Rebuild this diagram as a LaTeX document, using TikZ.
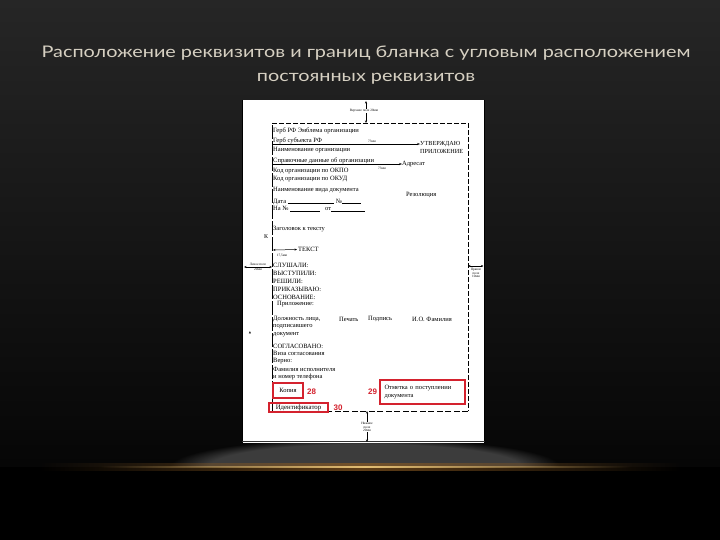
\documentclass[tikz,border=0pt]{standalone}
\usepackage{fontspec}
\setmainfont{Liberation Serif}
\newfontfamily\titlefont[FakeStretch=1.24]{Lato}
\newfontfamily\numfont{Liberation Sans}
\newfontfamily\symfont{DejaVu Sans}
\usetikzlibrary{fadings,arrows.meta}
\definecolor{bgtop}{HTML}{262626}
\definecolor{bgbot}{HTML}{060606}
\definecolor{titlecol}{HTML}{D6D0C2}
\definecolor{gold}{HTML}{E2BE74}
\definecolor{goldedge}{HTML}{8A5A22}
\definecolor{redbox}{HTML}{D4222E}
\definecolor{glow}{HTML}{3C3C3C}
\tikzfading[name=hfade, left color=transparent!100, right color=transparent!100, middle color=transparent!0]
\begin{document}
\begin{tikzpicture}[x=1pt,y=-1pt,
  txt/.style={anchor=west,inner sep=0pt,font=\fontsize{6.5}{7}\selectfont},
  tiny/.style={inner sep=0.3pt,font=\fontsize{3.4}{3.8}\selectfont,align=center},
  marg/.style={{Stealth[length=2.5pt,width=2pt]}-{Stealth[length=2.5pt,width=2pt]},line width=0.5pt},
  conn/.style={-{Stealth[length=3pt,width=2.2pt]},line width=0.8pt},
  framedash/.style={line width=0.7pt,dash pattern=on 5pt off 2pt},
  redframe/.style={draw=redbox,line width=2.6pt,inner sep=0pt},
  rednum/.style={text=redbox,font=\numfont\bfseries\fontsize{8}{9}\selectfont,inner sep=0pt}]
\useasboundingbox (0,0) rectangle (720,540);
% background
\fill[black] (0,0) rectangle (720,540);
\shade[top color=bgtop,bottom color=bgbot] (0,0) rectangle (720,466);
\begin{scope}
\clip (0,430) rectangle (720,466);
\fill[glow,path fading=circle with fuzzy edge 20 percent] (170,438) rectangle (560,496);
\end{scope}
\fill[goldedge,path fading=hfade,opacity=0.7] (40,463) rectangle (680,470.5);
\fill[gold,path fading=hfade] (100,465.5) rectangle (630,468);
% title
\node[font=\titlefont\fontsize{16}{24}\selectfont,text=titlecol,align=center] (title) at (366,65.5)
  {Расположение реквизитов и границ бланка с угловым расположением\\постоянных реквизитов};
% page
\fill[white] (242,100) rectangle (485,443);
\draw[black,line width=1.2pt] (242.6,100) -- (242.6,443);
\draw[black,line width=1.2pt] (484.4,100) -- (484.4,443);
\draw[black!80,line width=1pt] (242,441.5) -- (485,441.5);
% frame
\draw[framedash] (272,123) -- (468,123);
\draw[framedash] (468,123) -- (468,411);
\draw[line width=1pt,dash pattern=on 6pt off 2.5pt] (468,411) -- (272,411);
\draw[line width=0.7pt,dash pattern=on 14pt off 2pt] (272,411) -- (272,123);
% margins
\coordinate (pt) at (366,101);
\coordinate (ft) at (366,123);
\draw[marg] (pt) -- (ft);
\node[tiny,fill=white] (topm) at (364,111) {Верхнее поле 20мм};
\coordinate (pb) at (367,442);
\coordinate (fb) at (367,411);
\draw[marg] (fb) -- (pb);
\node[tiny,fill=white] (botm) at (367,427) {Нижнее\\поле\\20мм};
\coordinate (pl) at (244,267);
\coordinate (fl) at (272,267);
\draw[marg] (pl) -- (fl);
\node[tiny,anchor=south] (leftm) at (258,266) {Левое поле};
\node[tiny,anchor=north] (leftm2) at (258,268) {20мм};
\coordinate (fr) at (468,266);
\coordinate (pr) at (483.5,266);
\draw[marg] (fr) -- (pr);
\node[tiny,anchor=north] (rightm) at (476,267.5) {Правое\\поле\\10мм};
% header block
\node[txt] (gerb) at (273,131) {Герб РФ Эмблема организации};
\node[txt] (gerbs) at (273,140.5) {Герб субъекта РФ};
\node[txt,font=\fontsize{6.2}{7}\selectfont] (utv) at (420,144) {УТВЕРЖДАЮ};
\node[txt,font=\fontsize{6.2}{7}\selectfont] (pril) at (420,151.5) {ПРИЛОЖЕНИЕ};
\coordinate (l1) at (272,144);
\draw[conn] (l1) -- (utv.west);
\node[tiny,fill=white,inner sep=0.5pt] (m73a) at (372,141) {73мм};
\node[txt] (naim) at (273,150.5) {Наименование организации};
\node[txt] (sprav) at (273,160.5) {Справочные данные об организации};
\node[txt] (adr) at (402,164) {Адресат};
\coordinate (l2) at (272,164);
\draw[conn] (l2) -- (adr.west);
\node[tiny] (m73b) at (382,168.5) {73мм};
\node[txt] (okpo) at (273,171) {Код организации по ОКПО};
\node[txt] (okud) at (273,179.5) {Код организации по ОКУД};
\node[txt] (vid) at (273,190) {Наименование вида документа};
\node[txt] (rez) at (406,195) {Резолюция};
\node[txt] (data) at (273,202) {Дата \rule[-0.3pt]{46pt}{0.5pt}\,\,№\rule[-0.3pt]{19pt}{0.5pt}};
\node[txt] (nano) at (273,209) {На № \rule[-0.3pt]{30pt}{0.5pt}\hspace{5pt}от\rule[-0.3pt]{34pt}{0.5pt}};
\node[txt] (zag) at (273,229) {Заголовок к тексту};
\node[inner sep=0pt,font=\fontsize{6}{6}\selectfont] (k) at (266,237) {К};
\coordinate (t1) at (273,250);
\node[txt] (tekst) at (298,249.5) {ТЕКСТ};
\draw[marg] (t1) -- ([xshift=-1pt]tekst.west);
\node[tiny] (m175) at (282,256) {17,5мм};
% body
\node[txt] (sl) at (273,265) {СЛУШАЛИ:};
\node[txt] (vy) at (273,273) {ВЫСТУПИЛИ:};
\node[txt] (re) at (273,281) {РЕШИЛИ:};
\node[txt] (pr1) at (273,289) {ПРИКАЗЫВАЮ:};
\node[txt] (os) at (273,297) {ОСНОВАНИЕ:};
\node[txt] (pri) at (277,304.5) {Приложение:};
\node[txt] (dol) at (273,319) {Должность лица,};
\node[txt] (pech) at (339,319) {Печать};
\node[txt] (podp) at (368,319) {Подпись};
\node[txt] (fio) at (412,319) {И.О. Фамилия};
\node[txt] (dol2) at (273,327) {подписавшего};
\node[txt] (dol3) at (273,334.5) {документ};
\node[inner sep=0pt,font=\symfont\fontsize{3}{3}\selectfont] (mark) at (250,333) {▲};
\node[txt] (sogl) at (273,346) {СОГЛАСОВАНО:};
\node[txt] (viza) at (273,353.5) {Виза согласования};
\node[txt] (verno) at (273,361) {Верно:};
\node[txt] (isp) at (273,369) {Фамилия исполнителя};
\node[txt] (tel) at (273,377) {и номер телефона};
% red boxes
\node[redframe,minimum width=30pt,minimum height=15pt,font=\fontsize{6.5}{7}\selectfont] (kop) at (288,390.5) {Копия};
\node[rednum] (n28) at (311.5,392) {28};
\node[rednum] (n29) at (372.5,392) {29};
\node[redframe,minimum width=85pt,minimum height=24pt,align=left,text width=76pt,font=\fontsize{6.5}{8.5}\selectfont] (otm) at (422.5,392) {Отметка о поступлении\\документа};
\node[redframe,line width=2.8pt,minimum width=59pt,minimum height=9pt,font=\fontsize{6.8}{7.5}\selectfont] (ident) at (298.5,407.5) {Идентификатор};
\node[rednum] (n30) at (338,408) {30};
\end{tikzpicture}
\end{document}
